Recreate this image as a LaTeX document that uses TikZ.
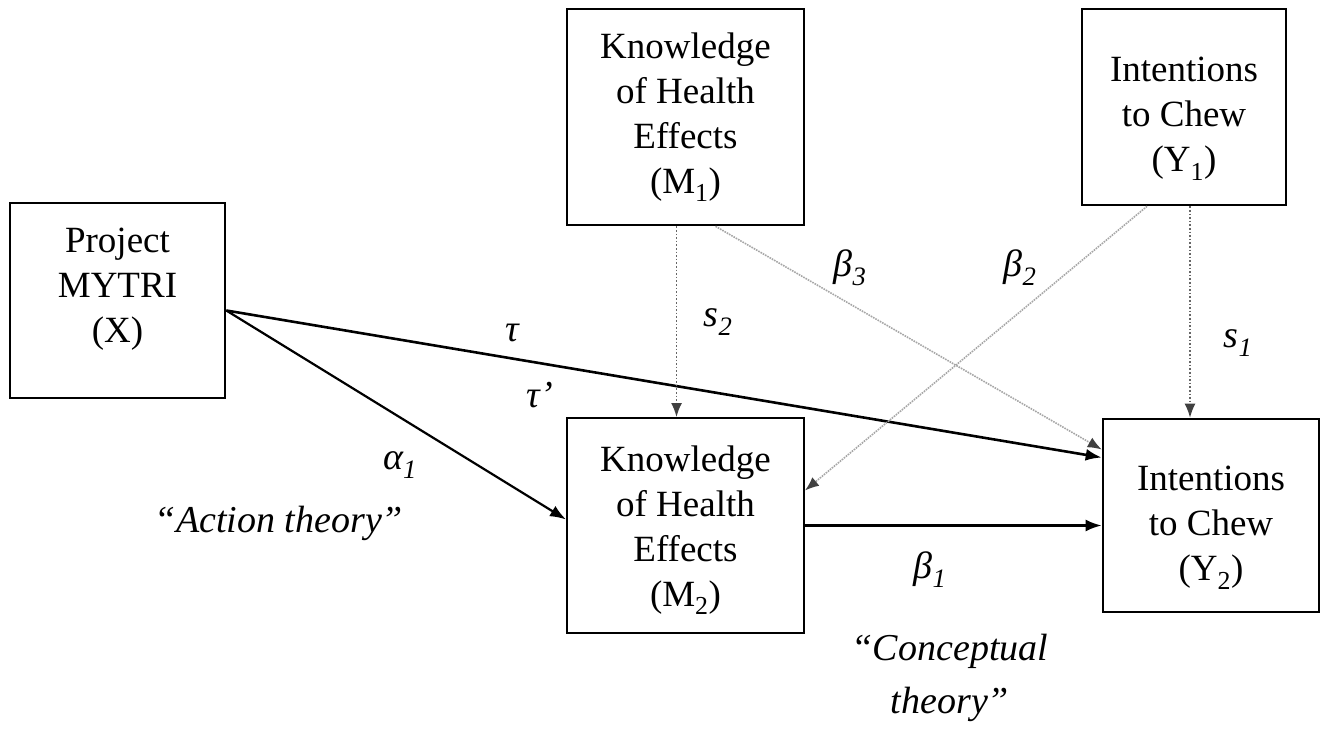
\documentclass[tikz,border=0pt]{standalone}
\usepackage{fontspec}
\setmainfont{Liberation Serif}
\usetikzlibrary{arrows.meta,calc}
\newcommand{\shiftbox}[2]{\raisebox{#1}[\height][\depth]{\begin{tabular}{@{}c@{}}#2\end{tabular}}}
\begin{document}
\begin{tikzpicture}[x=1pt,y=-1pt,
  box/.style={draw, line width=2.6pt, align=center, inner sep=0pt, font=\fontsize{37}{45}\selectfont},
  solidarrow/.style={line width=2.6pt, -{Latex[length=16pt,width=12pt]}},
  dotarrow/.style={line width=1.6pt, dotted, draw=black!60, -{Latex[length=14pt,width=11pt,color=black!75]}},
  grayarrow/.style={line width=1.6pt, densely dotted, draw=black!35, -{Latex[length=14pt,width=11pt,color=black!75]}},
  lab/.style={font=\fontsize{38}{45}\selectfont\itshape, inner sep=0pt}]
\useasboundingbox (0,0) rectangle (1327,730);

% boxes
\node[box, minimum width=215pt, minimum height=195pt] (X) at (117.5,300.5)
  {\shiftbox{12pt}{Project\\MYTRI\\(X)}};
\node[box, minimum width=237pt, minimum height=216pt] (M1) at (685.5,117)
  {Knowledge\\of Health\\Effects\\(M\textsubscript{1})};
\node[box, minimum width=204pt, minimum height=196pt] (Y1) at (1184,107)
  {\shiftbox{-11pt}{Intentions\\to Chew\\(Y\textsubscript{1})}};
\node[box, line width=2pt, minimum width=237pt, minimum height=215pt] (M2) at (685.5,525.5)
  {\shiftbox{-4pt}{Knowledge\\of Health\\Effects\\(M\textsubscript{2})}};
\node[box, minimum width=216pt, minimum height=193pt] (Y2) at (1211,515.5)
  {\shiftbox{-11pt}{Intentions\\to Chew\\(Y\textsubscript{2})}};

% connectors
\draw[solidarrow] ([yshift=-10pt]X.east) -- ([yshift=58pt]Y2.west);
\draw[solidarrow, line width=2.2pt] ([yshift=-10pt]X.east) -- ([yshift=6pt]M2.west);
\draw[solidarrow] (M2.east) -- (M2.east -| Y2.west);
\draw[dotarrow] ([xshift=-9pt]M1.south) -- ([xshift=-9pt]M1.south |- M2.north);
\draw[dotarrow] ([xshift=6pt]Y1.south) -- ([xshift=6pt]Y1.south |- Y2.north);
\draw[grayarrow] ([xshift=30pt]M1.south) -- ([yshift=66pt]Y2.west);
\draw[grayarrow] ([xshift=-37pt]Y1.south) -- ([yshift=35pt]M2.east);

% labels
\node[lab] (tau) at (512,333) {τ};
\node[lab] (taup) at (540,395) {τ’};
\node[lab] (a1) at (400,465) {α\textsubscript{1}};
\node[lab] (s2) at (718,322) {s\textsubscript{2}};
\node[lab] (s1) at (1238,343) {s\textsubscript{1}};
\node[lab] (b3) at (850,268) {β\textsubscript{3}};
\node[lab] (b2) at (1020,268) {β\textsubscript{2}};
\node[lab] (b1) at (930,570) {β\textsubscript{1}};
\node[lab] (act) at (279,523) {“Action theory”};
\node[lab, align=center, font=\fontsize{38}{53}\selectfont\itshape] (con) at (950,678) {“Conceptual\\theory”};
\end{tikzpicture}
\end{document}
